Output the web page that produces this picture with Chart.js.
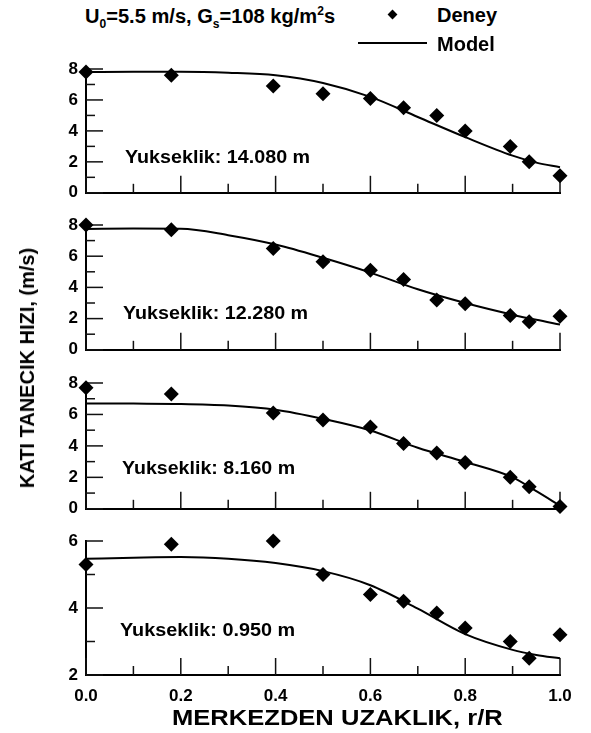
<!DOCTYPE html>
<html>
<head>
<meta charset="utf-8">
<script src="https://cdn.jsdelivr.net/npm/chart.js@4.4.0/dist/chart.umd.min.js"></script>
<style>
  body { margin: 0; background: #fff; }
  #page { position: relative; width: 591px; height: 733px; overflow: hidden;
          font-family: 'Liberation Sans', Arial, sans-serif; font-weight: bold; color: #000; }
  canvas { position: absolute; left: 0; }
  .txt { position: absolute; white-space: nowrap; transform-origin: 0 50%; line-height: 22px; font-size: 18px; }
  .txt sub, .txt sup { font-size: 12px; line-height: 0; }
  #ytitle { position: absolute; white-space: nowrap; font-size: 20px; line-height: 20px;
            transform: translate(-50%, -50%) rotate(-90deg); }
  #legDiamond { position: absolute; width: 7px; height: 7px; background: #000; transform: rotate(45deg); }
  #legLine { position: absolute; height: 2px; background: #000; }
</style>
</head>
<body>
<div id="page">
  <canvas id="p1"></canvas>
  <canvas id="p2"></canvas>
  <canvas id="p3"></canvas>
  <canvas id="p4"></canvas>

  <div class="txt" data-x="85" data-y="16" data-w="250" style="font-size:20px;">U<sub>0</sub>=5.5 m/s, G<sub>s</sub>=108 kg/m<sup>2</sup>s</div>
  <div id="legDiamond" style="left:389px; top:11px;"></div>
  <div class="txt" data-x="437" data-y="15" data-w="60" style="font-size:20px;">Deney</div>
  <div id="legLine" style="left:358px; top:42px; width:69px;"></div>
  <div class="txt" data-x="437" data-y="44" data-w="58" style="font-size:20px;">Model</div>

  <div class="txt" data-x="125" data-y="157" data-w="185">Yukseklik: 14.080 m</div>
  <div class="txt" data-x="123" data-y="313" data-w="185">Yukseklik: 12.280 m</div>
  <div class="txt" data-x="122" data-y="468" data-w="173">Yukseklik: 8.160 m</div>
  <div class="txt" data-x="120" data-y="630" data-w="175">Yukseklik: 0.950 m</div>

  <div class="txt" data-x="172" data-y="718" data-w="331" style="font-size:22px;">MERKEZDEN UZAKLIK, r/R</div>
  <div id="ytitle" style="left:27px; top:368px;">KATI TANECIK HIZI, (m/s)</div>
</div>

<script>
// r/R positions of the measurements (same in every panel)
const rExp = [0, 0.18, 0.395, 0.5, 0.6, 0.67, 0.74, 0.8, 0.895, 0.935, 1.0];
// r/R positions where the model curve was read
const rModel = [0, 0.1, 0.2, 0.3, 0.4, 0.5, 0.6, 0.7, 0.8, 0.9, 0.95, 1.0];

// Deney (measured) particle velocity, m/s
const exp14080 = [7.8, 7.6, 6.9, 6.4, 6.1, 5.5, 5.0, 4.0, 3.0, 2.0, 1.1];
const exp12280 = [8.0, 7.7, 6.5, 5.65, 5.1, 4.5, 3.2, 2.95, 2.2, 1.8, 2.15];
const exp8160  = [7.7, 7.3, 6.1, 5.65, 5.2, 4.15, 3.55, 2.95, 2.0, 1.4, 0.15];
const exp0950  = [5.3, 5.9, 6.0, 5.0, 4.4, 4.2, 3.85, 3.4, 3.0, 2.5, 3.2];

// Model curves, m/s
const model14080 = [7.8, 7.82, 7.82, 7.76, 7.6, 7.1, 6.2, 4.9, 3.6, 2.4, 1.95, 1.65];
const model12280 = [7.75, 7.77, 7.76, 7.35, 6.75, 5.9, 4.95, 3.88, 3.0, 2.25, 1.92, 1.62];
const model8160  = [6.7, 6.69, 6.67, 6.57, 6.3, 5.72, 4.98, 3.88, 2.98, 2.0, 1.12, 0.2];
const model0950  = [5.47, 5.5, 5.52, 5.47, 5.34, 5.1, 4.68, 3.98, 3.22, 2.75, 2.6, 2.5];

// y axis ranges per panel
const yRanges = [[0, 8], [0, 8], [0, 8], [2, 6]];

const FONT = "'Liberation Sans', Arial, sans-serif";

// plot-area pixel bounds for each panel (top, bottom)
const panelBox = [[69, 201], [225, 358], [383, 517], [541, 675]];

// ticks in this figure point inward, majors long and minors short
const inwardTicks = {
  id: 'inwardTicks',
  beforeDatasetsDraw(chart) {
    const { ctx, chartArea, scales: { x, y } } = chart;
    ctx.save();
    ctx.strokeStyle = '#111';
    ctx.lineWidth = 1.5;
    x.ticks.forEach(t => {
      const px = x.getPixelForValue(t.value);
      const len = Math.round(t.value * 10) % 2 === 0 ? 17 : 9;
      ctx.beginPath();
      ctx.moveTo(px, chartArea.bottom);
      ctx.lineTo(px, chartArea.bottom - len);
      ctx.stroke();
    });
    y.ticks.forEach(t => {
      const py = y.getPixelForValue(t.value);
      const len = Math.round(t.value) % 2 === 0 ? 17 : 9;
      ctx.beginPath();
      ctx.moveTo(chartArea.left, py);
      ctx.lineTo(chartArea.left + len, py);
      ctx.stroke();
    });
    ctx.restore();
  }
};

function makePanel(id, expVals, modelVals, range, box, showX) {
  const padTop = 20;
  const extra = showX ? 36 : 10;
  const cv = document.getElementById(id);
  cv.width = 591;
  cv.height = padTop + (box[1] - box[0]) + extra;
  cv.style.top = (box[0] - padTop) + 'px';

  return new Chart(cv, {
    type: 'line',
    data: {
      datasets: [
        {
          label: 'Deney',
          data: rExp.map((r, i) => ({ x: r, y: expVals[i] })),
          showLine: false,
          pointStyle: 'rectRot',
          pointRadius: 7.5,
          pointBackgroundColor: '#000',
          pointBorderWidth: 0,
          clip: false
        },
        {
          label: 'Model',
          data: rModel.map((r, i) => ({ x: r, y: modelVals[i] })),
          borderColor: '#000',
          borderWidth: 2,
          pointRadius: 0,
          cubicInterpolationMode: 'monotone',
          clip: false
        }
      ]
    },
    options: {
      responsive: false,
      animation: false,
      devicePixelRatio: 1,
      layout: { padding: { top: padTop, right: 31, left: 0, bottom: 0 } },
      plugins: { legend: { display: false }, tooltip: { enabled: false } },
      scales: {
        x: {
          type: 'linear',
          min: 0,
          max: 1,
          grid: { display: false, drawTicks: false },
          border: { display: true, color: '#000', width: 2 },
          ticks: {
            display: showX,
            stepSize: 0.1,
            autoSkip: false,
            maxRotation: 0,
            padding: 11,
            color: '#000',
            font: { family: FONT, size: 17, weight: 'bold' },
            callback: v => (Math.round(v * 10) % 2 === 0 ? v.toFixed(1) : '')
          },
          afterFit: s => { s.height = extra; }
        },
        y: {
          type: 'linear',
          min: range[0],
          max: range[1],
          grid: { display: false, drawTicks: false },
          border: { display: true, color: '#000', width: 2 },
          ticks: {
            stepSize: 1,
            autoSkip: false,
            padding: 8,
            color: '#000',
            font: { family: FONT, size: 17, weight: 'bold' },
            callback: v => (Math.round(v) % 2 === 0 ? v : '')
          },
          afterFit: s => { s.width = 86; }
        }
      }
    },
    plugins: [inwardTicks]
  });
}

makePanel('p1', exp14080, model14080, yRanges[0], panelBox[0], false);
makePanel('p2', exp12280, model12280, yRanges[1], panelBox[1], false);
makePanel('p3', exp8160, model8160, yRanges[2], panelBox[2], false);
makePanel('p4', exp0950, model0950, yRanges[3], panelBox[3], true);

// place the text blocks and stretch them to the widths seen in the figure
document.querySelectorAll('.txt').forEach(el => {
  const h = el.offsetHeight;
  el.style.left = el.dataset.x + 'px';
  el.style.top = (el.dataset.y - h / 2) + 'px';
  const k = el.dataset.w / el.offsetWidth;
  el.style.transform = 'scaleX(' + k + ')';
});
</script>
</body>
</html>
